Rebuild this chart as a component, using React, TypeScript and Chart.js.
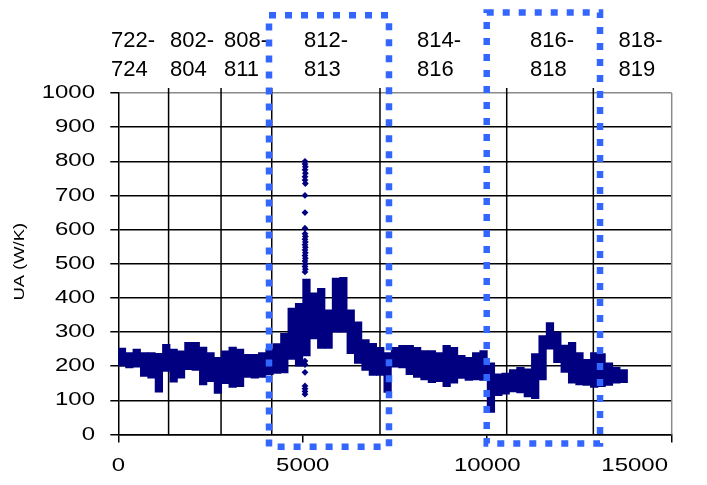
import React, { useEffect, useRef } from "react";
import { Chart, registerables } from "chart.js";

Chart.register(...registerables);

// ---- data ----
const xBins = [
  100, 300, 500, 700, 900, 1100, 1300, 1500, 1700, 1900, 2100, 2300, 2500, 2700, 2900,
  3100, 3300, 3500, 3700, 3900, 4100, 4300, 4500, 4700, 4900, 5100, 5300, 5500, 5700, 5900,
  6100, 6300, 6500, 6700, 6900, 7100, 7300, 7500, 7700, 7900, 8100, 8300, 8500, 8700, 8900,
  9100, 9300, 9500, 9700, 9900, 10100, 10300, 10500, 10700, 10900, 11100, 11300, 11500, 11700, 11900,
  12100, 12300, 12500, 12700, 12900, 13100, 13300, 13500, 13700,
];
const bandHigh = [
  253, 240, 250, 240, 240, 238, 264, 250, 245, 270, 270, 256, 240, 226, 245,
  256, 250, 235, 235, 240, 250, 266, 296, 370, 384, 455, 415, 428, 365, 458,
  460, 365, 330, 278, 267, 255, 240, 255, 261, 261, 255, 246, 246, 240, 261,
  255, 232, 226, 240, 246, 210, 178, 180, 190, 197, 192, 237, 290, 328, 300,
  262, 270, 240, 220, 240, 237, 210, 197, 190,
];
const bandLow = [
  200, 195, 197, 170, 165, 124, 185, 153, 165, 190, 188, 145, 155, 120, 149,
  138, 140, 167, 165, 167, 175, 179, 180, 220, 200, 230, 280, 252, 252, 300,
  300, 237, 208, 188, 173, 173, 123, 197, 195, 175, 167, 160, 152, 155, 140,
  150, 164, 158, 160, 158, 65, 114, 118, 125, 122, 110, 105, 160, 250, 210,
  182, 150, 145, 144, 138, 140, 144, 150, 152,
];
// isolated points of the spike near x = 5060
const spikeX = [
  5060, 5060, 5070, 5060, 5070, 5060, 5060, 5070, 5060, 5060, 5060,
  5060, 5070, 5060, 5070, 5060, 5070, 5060, 5070, 5060, 5070, 5060, 5070, 5060, 5070, 5060,
  5060, 5060, 5060, 5060, 5060, 5060, 5060,
];
const spikeY = [
  800, 792, 784, 775, 765, 755, 745, 735, 700, 650, 604,
  588, 580, 572, 564, 556, 548, 540, 532, 524, 516, 508, 500, 492, 484, 476,
  215, 205, 182, 142, 134, 126, 118,
];

// period separators and their labels
const periodBounds = [1363, 2785, 4159, 7093, 10528, 12876];
const periodLabels = [
  ["722-", "724"],
  ["802-", "804"],
  ["808-", "811"],
  ["812-", "813"],
  ["814-", "816"],
  ["816-", "818"],
  ["818-", "819"],
];
const periodLabelX = [-198, 1401, 2865, 5034, 8097, 11160, 13560];

// dotted highlight boxes (data units)
const boxX0 = [4085, 9986];
const boxX1 = [7337, 13057];
const boxY0 = [-36, -26];
const boxY1 = [1228, 1236];

const NAVY = "#000080";
const FONT = '"Liberation Sans", Arial, sans-serif';

function stretchText(ctx: CanvasRenderingContext2D, text: string, x: number, y: number, align: CanvasTextAlign, sx: number) {
  ctx.save();
  ctx.translate(x, y);
  ctx.scale(sx, 1);
  ctx.textAlign = align;
  ctx.textBaseline = "middle";
  ctx.fillText(text, 0, 0);
  ctx.restore();
}

const overlay = {
  id: "overlay",
  beforeDatasetsDraw(chart: any) {
    const { ctx, chartArea } = chart;
    const xs = chart.scales.x;
    ctx.save();
    ctx.strokeStyle = "#000";
    ctx.lineWidth = 1.5;
    periodBounds.forEach((b) => {
      const px = xs.getPixelForValue(b);
      ctx.beginPath();
      ctx.moveTo(px, chartArea.top - 5);
      ctx.lineTo(px, chartArea.bottom);
      ctx.stroke();
    });
    ctx.strokeStyle = "#8a8a8a";
    ctx.beginPath();
    ctx.moveTo(chartArea.right, chartArea.top);
    ctx.lineTo(chartArea.right, chartArea.bottom);
    ctx.stroke();
    ctx.restore();
  },
  afterDraw(chart: any) {
    const { ctx, chartArea } = chart;
    const xs = chart.scales.x;
    const ys = chart.scales.y;
    ctx.save();
    ctx.fillStyle = "#000";
    // y tick labels
    ctx.font = `18.6px ${FONT}`;
    ys.ticks.forEach((t: any) => {
      stretchText(ctx, String(t.value), 95, ys.getPixelForValue(t.value), "right", 1.29);
    });
    // x tick labels
    xs.ticks.forEach((t: any) => {
      const label = String(t.value);
      const w = ctx.measureText(label).width * 1.29;
      let cx = xs.getPixelForValue(t.value);
      if (cx + w / 2 > 668) cx = 668 - w / 2;
      stretchText(ctx, label, cx, 466, "center", 1.29);
    });
    // y title
    ctx.save();
    ctx.font = `14.5px ${FONT}`;
    ctx.translate(20, (chartArea.top + chartArea.bottom) / 2 - 2);
    ctx.rotate(-Math.PI / 2);
    stretchText(ctx, "UA (W/K)", 0, 0, "center", 1.27);
    ctx.restore();
    // period labels
    ctx.font = `22px ${FONT}`;
    periodLabels.forEach((lines, i) => {
      const px = xs.getPixelForValue(periodLabelX[i]);
      stretchText(ctx, lines[0], px, 41, "left", 1);
      stretchText(ctx, lines[1], px, 69.5, "left", 1);
    });
    // dotted boxes
    ctx.strokeStyle = "#3366ff";
    ctx.lineWidth = 6.5;
    ctx.setLineDash([7, 9]);
    ctx.lineCap = "butt";
    boxX0.forEach((x0, i) => {
      const l = xs.getPixelForValue(x0);
      const r = xs.getPixelForValue(boxX1[i]);
      const b = ys.getPixelForValue(boxY0[i]);
      const t = ys.getPixelForValue(boxY1[i]);
      ctx.strokeRect(l, t, r - l, b - t);
    });
    ctx.restore();
  },
};

export default function App() {
  const ref = useRef<HTMLCanvasElement | null>(null);
  useEffect(() => {
    if (!ref.current) return;
    const chart = new Chart(ref.current, {
      type: "bar",
      data: {
        datasets: [
          {
            type: "bar",
            data: xBins.map((x, i) => ({ x, y: [bandLow[i], bandHigh[i]] })) as any,
            backgroundColor: NAVY,
            borderWidth: 0,
            barThickness: 7.6,
          },
          {
            type: "scatter",
            data: spikeX.map((x, i) => ({ x, y: spikeY[i] })),
            backgroundColor: NAVY,
            borderColor: NAVY,
            borderWidth: 0,
            pointStyle: "rectRot",
            pointRadius: 3.4,
          } as any,
        ],
      },
      options: {
        responsive: false,
        animation: false,
        devicePixelRatio: 1,
        events: [],
        layout: { padding: { left: 0, right: 35.3, top: 93, bottom: 0 } },
        plugins: { legend: { display: false }, tooltip: { enabled: false } },
        scales: {
          x: {
            type: "linear",
            min: 0,
            max: 15000,
            offset: false,
            ticks: { display: false, stepSize: 5000 },
            grid: { display: true, drawOnChartArea: false, drawTicks: true, tickLength: 8, color: "#000", lineWidth: 1.5, offset: false },
            border: { display: true, color: "#000", width: 1.5 },
            afterFit: (s: any) => { s.height = 50.5; },
          },
          y: {
            min: 0,
            max: 1000,
            ticks: { display: false, stepSize: 100 },
            grid: {
              color: (c: any) => (c.tick && c.tick.value === 1000 ? "#8a8a8a" : "#000"),
              tickColor: "#000",
              lineWidth: 1.5,
              tickLength: 8,
            },
            border: { display: true, color: "#000", width: 1.5 },
            afterFit: (s: any) => { s.width = 118.3; },
          },
        },
      },
      plugins: [overlay],
    });
    return () => chart.destroy();
  }, []);
  return (
    <div style={{ position: "fixed", left: 0, top: 0, width: 707, height: 485, background: "#fff" }}>
      <canvas ref={ref} width={707} height={485} />
    </div>
  );
}
